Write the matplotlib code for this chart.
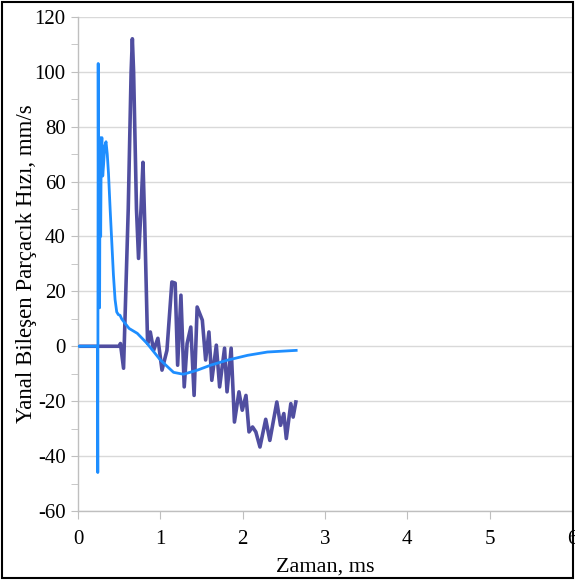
import matplotlib
matplotlib.use("Agg")
import matplotlib.pyplot as plt
from matplotlib.patches import Rectangle
from matplotlib.ticker import MultipleLocator

plt.rcParams['font.family'] = ['Liberation Serif', 'DejaVu Serif']
plt.rcParams['axes.unicode_minus'] = False

# lateral component particle velocity, two records (time in ms, velocity in mm/s)
t_blue = [0, 0.235, 0.24, 0.245, 0.25, 0.255, 0.262, 0.268, 0.275, 0.282, 0.29,
          0.30, 0.31, 0.325, 0.34, 0.355, 0.37, 0.39, 0.41, 0.43, 0.45, 0.47,
          0.49, 0.51, 0.53, 0.57, 0.62, 0.72, 0.84, 1.0, 1.16, 1.28, 1.45,
          1.61, 1.81, 2.06, 2.30, 2.65]
v_blue = [0, 0, -46, 103, 20, 52, 14, 76, 40, 72, 76,
          62, 66, 73, 74.5, 70, 63, 50, 38, 26, 17, 12.5,
          11.5, 11.3, 10, 8.4, 6.5, 4.7, 1, -5, -9.5, -10.2, -8.7,
          -6.9, -5.1, -3.3, -2.1, -1.5]

t_purple = [0, 0.50, 0.515, 0.553, 0.61, 0.645, 0.66, 0.675, 0.71, 0.735, 0.765,
            0.789, 0.81, 0.845, 0.878, 0.918, 0.97, 1.02, 1.08, 1.14, 1.18,
            1.21, 1.25, 1.29, 1.325, 1.37, 1.41, 1.447, 1.51, 1.55, 1.59,
            1.625, 1.68, 1.72, 1.78, 1.81, 1.86, 1.90, 1.955, 1.995, 2.04,
            2.077, 2.12, 2.16, 2.21, 2.28, 2.33, 2.415, 2.46, 2.50, 2.53,
            2.585, 2.613, 2.646]
v_purple = [0, 0, 1, -8, 50, 100, 112, 100, 50, 32, 50,
            67, 45, 1, 5.2, -1.5, 2.9, -8.7, -1.5, 23.4, 23,
            -6.9, 18.6, -14.8, 1, 7, -17.9, 14.3, 9.5, -5, 5.2,
            -12.4, 0.4, -14.8, -0.7, -16.6, -0.7, -27.6, -16.6, -23.3, -17.9,
            -31.2, -29.4, -31.2, -36.7, -26.6, -34.3, -20.3, -28.8, -24.5, -33.6,
            -20.9, -25.8, -20.3]

fig = plt.figure(figsize=(5.75, 5.8), dpi=100)
ax = fig.add_axes([0.1357, 0.119, 0.859, 0.852])

ax.plot(t_blue, v_blue, color='#1E8EFF', lw=2.0, zorder=3)
ax.plot(t_purple, v_purple, color='#504EA0', lw=2.6, zorder=2)

ax.set_xlim(0, 6)
ax.set_ylim(-60, 120)
ax.xaxis.set_major_locator(MultipleLocator(1))
ax.yaxis.set_major_locator(MultipleLocator(20))
ax.yaxis.set_minor_locator(MultipleLocator(10))

ax.grid(axis='y', which='major', color='#D9D9D9', lw=1.0)
ax.set_axisbelow(True)
for side in ['top', 'right']:
    ax.spines[side].set_visible(False)
for side in ['left', 'bottom']:
    ax.spines[side].set_color('#BFBFBF')
    ax.spines[side].set_linewidth(1.0)

ax.tick_params(axis='x', which='major', length=6, color='#BFBFBF', pad=8, labelsize=15)
ax.tick_params(axis='y', which='major', length=5, color='#BFBFBF', pad=4, labelsize=15)
ax.tick_params(axis='y', which='minor', length=5, color='#BFBFBF')

ax.set_xlabel('Zaman, ms', fontsize=16, labelpad=6)
ax.set_ylabel('Yanal Bileşen Parçacık Hızı, mm/s', fontsize=16.5, labelpad=-2)

fig.patches.append(Rectangle((0.003, 0.003), 0.994, 0.994, transform=fig.transFigure,
                             fill=False, edgecolor='black', lw=1.5))

fig.savefig('out.png', dpi=100)
